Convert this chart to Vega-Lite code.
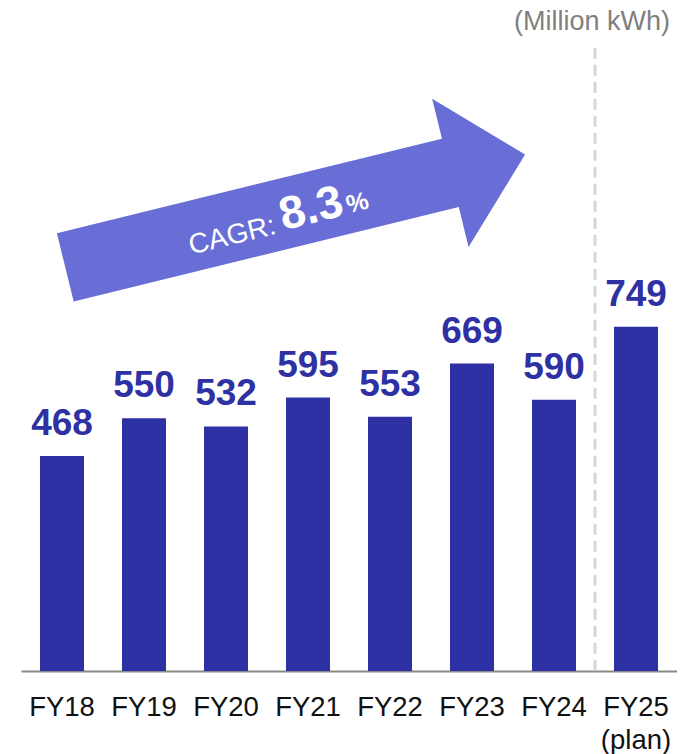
{
  "$schema": "https://vega.github.io/schema/vega-lite/v6.json",
  "width": 656,
  "height": 671,
  "padding": {"left": 21, "top": 0, "right": 0, "bottom": 0},
  "background": "white",
  "config": {
    "view": {"stroke": null},
    "font": "Liberation Sans",
    "text": {"font": "Liberation Sans"}
  },
  "data": {
    "values": [
      {"year": "FY18", "value": 468},
      {"year": "FY19", "value": 550},
      {"year": "FY20", "value": 532},
      {"year": "FY21", "value": 595},
      {"year": "FY22", "value": 553},
      {"year": "FY23", "value": 669},
      {"year": "FY24", "value": 590},
      {"year": "FY25 (plan)", "value": 749}
    ]
  },
  "resolve": {"scale": {"x": "independent"}},
  "layer": [
    {
      "mark": {"type": "bar", "color": "#2E31A3"},
      "encoding": {
        "x": {
          "field": "year", "type": "nominal", "sort": null,
          "scale": {"paddingInner": 0.4634, "paddingOuter": 0.2317},
          "axis": {
            "title": null, "ticks": false, "tickSize": 0, "labelPadding": 22,
            "labelAngle": 0, "labelFontSize": 27.5, "labelColor": "#111111",
            "labelFont": "Liberation Sans", "labelLineHeight": 33,
            "domainColor": "#8A8A8A", "domainWidth": 2,
            "labelExpr": "datum.value == 'FY25 (plan)' ? ['FY25', '(plan)'] : datum.label"
          }
        },
        "y": {
          "field": "value", "type": "quantitative",
          "scale": {"domain": [0, 1460], "nice": false},
          "axis": null
        }
      }
    },
    {
      "mark": {"type": "text", "fontSize": 37, "fontWeight": "bold", "color": "#2E31A3", "baseline": "alphabetic", "dy": -21},
      "encoding": {
        "x": {"field": "year", "type": "nominal", "sort": null, "scale": {"paddingInner": 0.4634, "paddingOuter": 0.2317}, "axis": null},
        "y": {"field": "value", "type": "quantitative"},
        "text": {"field": "value", "type": "quantitative"}
      }
    },
    {
      "data": {"values": [{"label": "divider"}]},
      "mark": {"type": "rule", "color": "#D6D6D6", "strokeWidth": 3, "strokeDash": [11, 6]},
      "encoding": {
        "x": {"datum": 7, "type": "quantitative", "scale": {"domain": [0, 8], "nice": false, "zero": false}, "axis": null},
        "y": {"datum": 1356, "type": "quantitative"},
        "y2": {"datum": 0}
      }
    },
    {
      "data": {"values": [{"label": "arrow"}]},
      "mark": {
        "type": "point", "filled": true, "opacity": 1, "color": "#686ED6", "strokeWidth": 0,
        "shape": "M-1,-0.1487L0.6748,-0.1487L0.6748,-0.3227L1,0L0.6748,0.3227L0.6748,0.1487L-1,0.1487Z",
        "size": 224202, "angle": 346.2
      },
      "encoding": {
        "x": {"datum": 3.344, "type": "quantitative", "scale": {"domain": [0, 8], "nice": false, "zero": false}, "axis": null},
        "y": {"datum": 1001, "type": "quantitative"}
      }
    },
    {
      "data": {"values": [{"label": "CAGR:"}]},
      "mark": {"type": "text", "fontSize": 28, "color": "white", "align": "left", "baseline": "alphabetic", "angle": 346.2},
      "encoding": {
        "x": {"datum": 2.075, "type": "quantitative", "scale": {"domain": [0, 8], "nice": false, "zero": false}, "axis": null},
        "y": {"datum": 906, "type": "quantitative"},
        "text": {"field": "label"}
      }
    },
    {
      "data": {"values": [{"label": "8.3"}]},
      "mark": {"type": "text", "fontSize": 46, "fontWeight": "bold", "color": "white", "align": "left", "baseline": "alphabetic", "angle": 346.2},
      "encoding": {
        "x": {"datum": 3.201, "type": "quantitative", "scale": {"domain": [0, 8], "nice": false, "zero": false}, "axis": null},
        "y": {"datum": 959, "type": "quantitative"},
        "text": {"field": "label"}
      }
    },
    {
      "data": {"values": [{"label": "%"}]},
      "mark": {"type": "text", "fontSize": 25, "fontWeight": "bold", "color": "white", "align": "left", "baseline": "alphabetic", "angle": 346.2},
      "encoding": {
        "x": {"datum": 3.994, "type": "quantitative", "scale": {"domain": [0, 8], "nice": false, "zero": false}, "axis": null},
        "y": {"datum": 996, "type": "quantitative"},
        "text": {"field": "label"}
      }
    },
    {
      "data": {"values": [{"label": "(Million kWh)"}]},
      "mark": {"type": "text", "fontSize": 27, "color": "#7F7F7F", "align": "right", "baseline": "middle"},
      "encoding": {
        "x": {"datum": 7.915, "type": "quantitative", "scale": {"domain": [0, 8], "nice": false, "zero": false}, "axis": null},
        "y": {"datum": 1413, "type": "quantitative"},
        "text": {"field": "label"}
      }
    }
  ]
}
